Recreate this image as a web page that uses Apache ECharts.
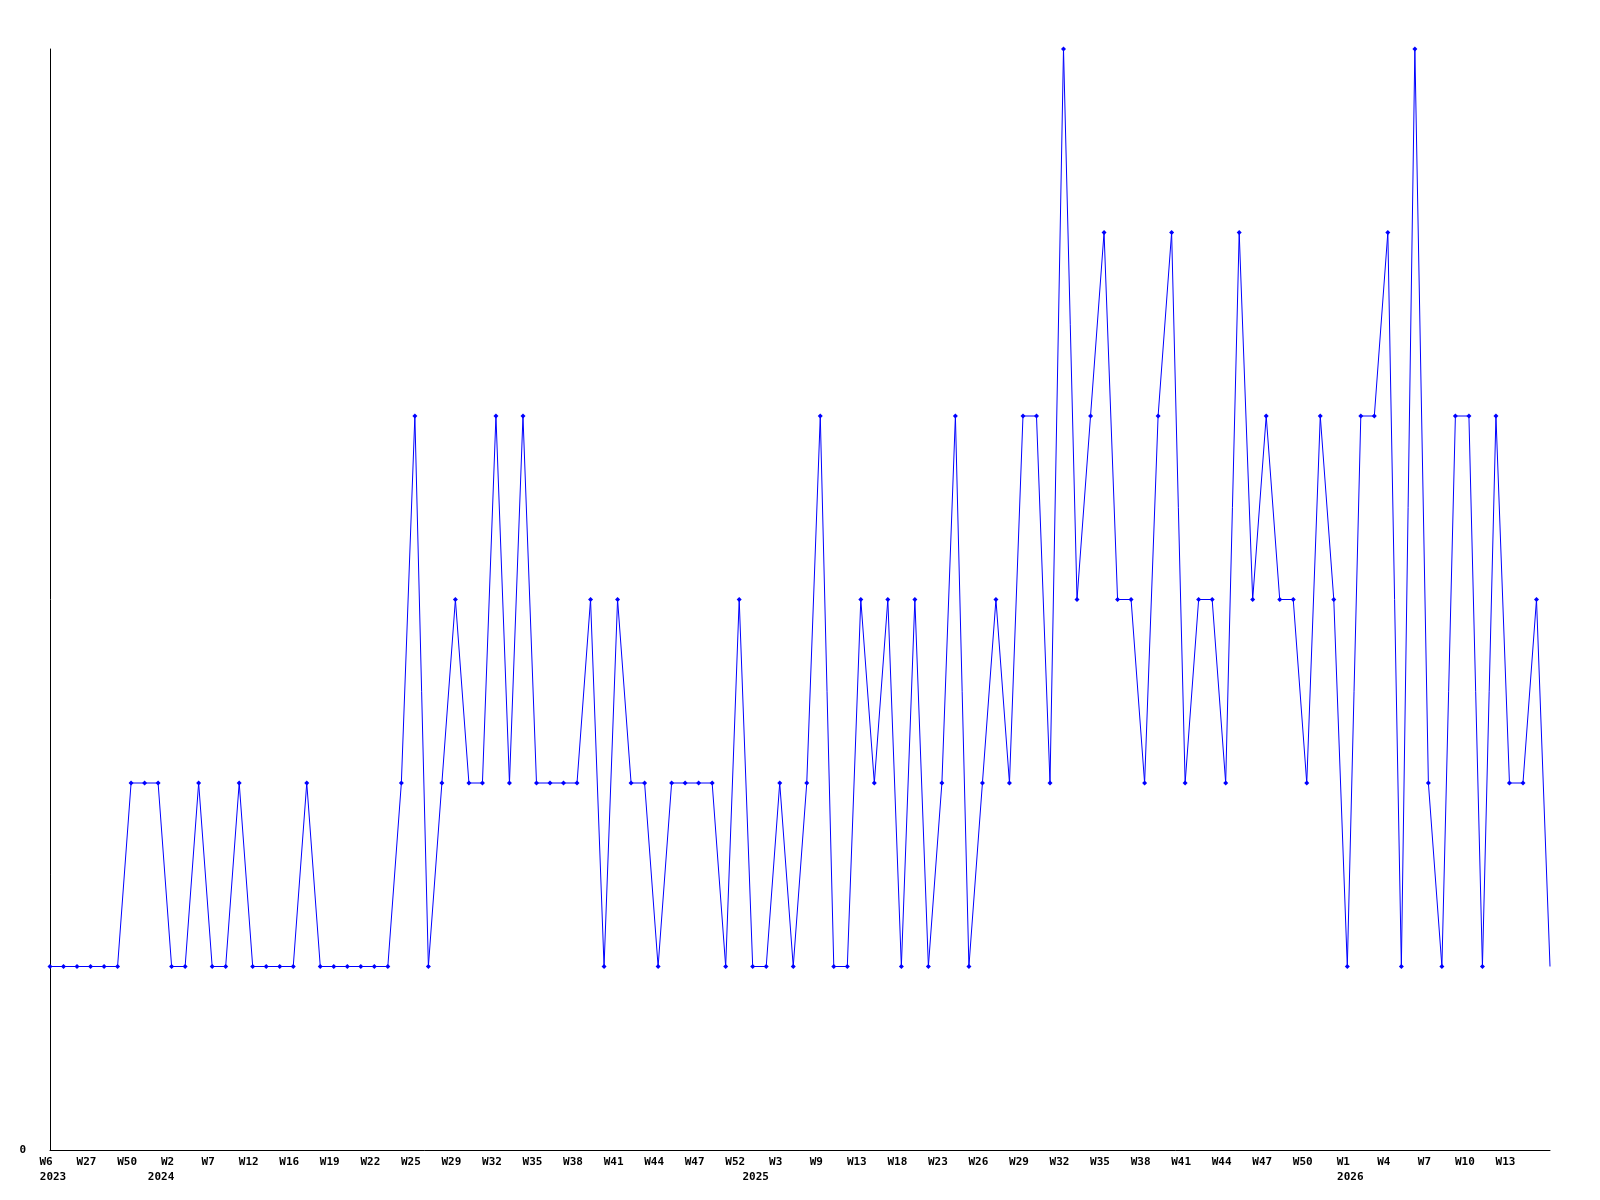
<!DOCTYPE html>
<html>
<head>
<meta charset="utf-8">
<script src="https://cdn.jsdelivr.net/npm/echarts@6/dist/echarts.min.js"></script>
<style>html,body{margin:0;padding:0;background:#fff}#c{width:1600px;height:1200px}</style>
</head>
<body>
<div id="c"></div>
<script>
// Week labels (one per data point) and year of each point
const weeks = [
 'W6','W8','W15','W27','W33','W41','W50','W52','W1','W2',
 'W4','W5','W7','W9','W10','W12','W14','W15','W16','W17',
 'W18','W19','W20','W21','W22','W23','W24','W25','W26','W27',
 'W29','W30','W31','W32','W33','W34','W35','W36','W37','W38',
 'W39','W40','W41','W42','W43','W44','W45','W46','W47','W49',
 'W51','W52','W1','W2','W3','W5','W7','W9','W10','W12',
 'W13','W15','W16','W18','W20','W21','W23','W24','W25','W26',
 'W27','W28','W29','W30','W31','W32','W33','W34','W35','W36',
 'W37','W38','W39','W40','W41','W42','W43','W44','W45','W46',
 'W47','W48','W49','W50','W51','W52','W1','W2','W3','W4',
 'W5','W6','W7','W8','W9','W10','W11','W12','W13','W14',
 'W15','W16'
];
const years = [
 2023,2023,2023,2023,2023,2023,2023,2023,2024,2024,
 2024,2024,2024,2024,2024,2024,2024,2024,2024,2024,
 2024,2024,2024,2024,2024,2024,2024,2024,2024,2024,
 2024,2024,2024,2024,2024,2024,2024,2024,2024,2024,
 2024,2024,2024,2024,2024,2024,2024,2024,2024,2024,
 2024,2024,2025,2025,2025,2025,2025,2025,2025,2025,
 2025,2025,2025,2025,2025,2025,2025,2025,2025,2025,
 2025,2025,2025,2025,2025,2025,2025,2025,2025,2025,
 2025,2025,2025,2025,2025,2025,2025,2025,2025,2025,
 2025,2025,2025,2025,2025,2025,2026,2026,2026,2026,
 2026,2026,2026,2026,2026,2026,2026,2026,2026,2026,
 2026,2026
];
const values = [
 1,1,1,1,1,1,2,2,2,1,
 1,2,1,1,2,1,1,1,1,2,
 1,1,1,1,1,1,2,4,1,2,
 3,2,2,4,2,4,2,2,2,2,
 3,1,3,2,2,1,2,2,2,2,
 1,3,1,1,2,1,2,4,1,1,
 3,2,3,1,3,1,2,4,1,2,
 3,2,4,4,2,6,3,4,5,3,
 3,2,4,5,2,3,3,2,5,3,
 4,3,3,2,4,3,1,4,4,5,
 1,6,2,1,4,4,1,4,2,2,
 3,1
];
const yTickLabels = ['0'];
const LABEL_STEP = 3;

const chart = echarts.init(document.getElementById('c'), null, {renderer: 'canvas'});
const font = '"DejaVu Sans Mono", "Liberation Mono", monospace';
const lastIdx = values.length - 1;
chart.setOption({
  animation: false,
  backgroundColor: '#ffffff',
  grid: {left: 50, right: 50, top: 49, bottom: 50, containLabel: false},
  xAxis: [{
    type: 'category',
    data: weeks,
    boundaryGap: false,
    axisLine: {show: true, lineStyle: {color: '#000', width: 1}},
    axisTick: {show: false},
    splitLine: {show: false},
    axisLabel: {
      interval: function (idx) { return idx % LABEL_STEP === 0 && idx < lastIdx; },
      color: '#000',
      fontFamily: font,
      fontWeight: 'bold',
      fontSize: 11,
      margin: 7,
      padding: [0, 8, 0, 0]
    }
  }, {
    type: 'category',
    data: weeks,
    boundaryGap: false,
    position: 'bottom',
    axisLine: {show: false},
    axisTick: {show: false},
    splitLine: {show: false},
    axisLabel: {
      interval: function (idx) { return idx === 0 || years[idx] !== years[idx - 1]; },
      color: '#000',
      fontFamily: font,
      fontWeight: 'bold',
      fontSize: 11,
      margin: 22,
      padding: [0, 0, 0, 6],
      formatter: function (val, idx) { return String(years[idx]); }
    }
  }],
  yAxis: {
    type: 'value',
    min: 0,
    max: 6,
    interval: 6,
    axisLine: {show: true, lineStyle: {color: '#000', width: 1}},
    axisTick: {show: false},
    splitLine: {show: false},
    axisLabel: {
      color: '#000',
      fontFamily: font,
      fontWeight: 'bold',
      fontSize: 11,
      margin: 24,
      formatter: function (v) { return v === 0 ? yTickLabels[0] : ''; }
    }
  },
  series: [{
    type: 'line',
    xAxisIndex: 0,
    data: values,
    symbol: function (v, p) { return p.dataIndex === lastIdx ? 'none' : 'diamond'; },
    symbolSize: 5,
    showAllSymbol: true,
    lineStyle: {color: '#0000ff', width: 1},
    itemStyle: {color: '#0000ff'},
    emphasis: {disabled: true}
  }]
});
</script>
</body>
</html>
